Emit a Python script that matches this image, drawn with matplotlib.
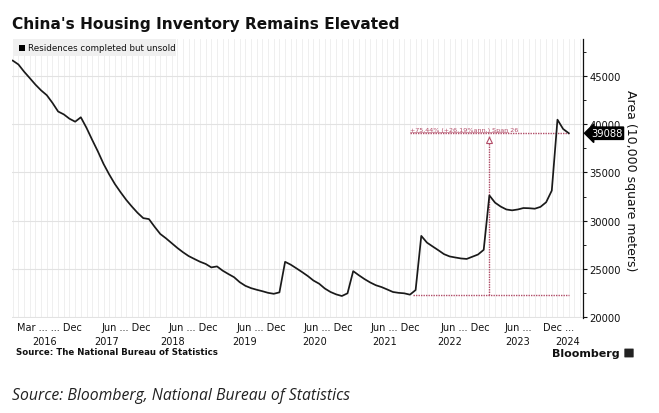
import numpy as np
import matplotlib
matplotlib.use('Agg')
from matplotlib import pyplot as plt
from matplotlib.patches import FancyBboxPatch, Rectangle
from matplotlib import transforms

# monthly, Jan 2016 .. Mar 2024 (10,000 sq m)
unsold = [46650, 46250, 45500, 44830, 44150, 43550, 43050, 42250, 41350, 41050, 40600, 40290,
          40750, 39650, 38400, 37200, 35900, 34800, 33800, 32950, 32150, 31450, 30800, 30250,
          30150, 29350, 28600, 28150, 27650, 27150, 26700, 26300, 26000, 25710, 25480, 25120,
          25220, 24780, 24430, 24100, 23580, 23200, 22960, 22790, 22640, 22470, 22370, 22520,
          25700, 25400, 25020, 24630, 24220, 23750, 23420, 22920, 22560, 22310, 22140, 22420,
          24730, 24300, 23900, 23550, 23260, 23070, 22820, 22560, 22470, 22420, 22280, 22760,
          28400, 27700, 27300, 26910, 26500, 26260, 26150, 26050, 26000, 26230, 26460, 26950,
          32610, 31860, 31450, 31150, 31060, 31150, 31300, 31280, 31230, 31420, 31900, 33120,
          40500, 39530, 39088]
month_labels = ['Mar ... ... Dec', 'Jun ... Dec', 'Jun ... Dec', 'Jun ... Dec', 'Jun ... Dec',
                'Jun ... Dec', 'Jun ... Dec', 'Jun ...', 'Dec ...']
month_label_pos = [6.48, 19.96, 31.85, 43.74, 55.64, 67.36, 79.69, 89.12, 96.26]
year_labels = ['2016', '2017', '2018', '2019', '2020', '2021', '2022', '2023', '2024']
year_label_pos = [5.68, 16.6, 28.2, 40.9, 53.26, 65.6, 76.96, 89.0, 97.8]
low_idx = 70      # Nov 2021
low_val = 22280
last_val = 39088
span_text = '+75.44% (+26.19%ann.) Span 26'

x = np.arange(len(unsold))

fig = plt.figure(figsize=(6.59, 4.14), dpi=100)
ax = fig.add_axes([12/659, 1-319/414, 571/659, 279/414])

ax.plot(x, unsold, color='#1a1a1a', lw=1.25, zorder=3)

ax.set_xlim(-0.13, 100.5)
ax.set_ylim(19850, 48900)

# grid: monthly verticals, horizontals at majors
for xi in np.arange(0, 101):
    ax.axvline(xi, color='#ededed', lw=0.6, zorder=0)
ax.set_yticks(np.arange(20000, 45001, 5000))
ax.set_yticks(np.arange(20000, 47501, 2500), minor=True)
ax.yaxis.grid(True, which='major', color='#e2e2e2', lw=0.8, zorder=0)
ax.set_axisbelow(True)

ax.yaxis.tick_right()
ax.tick_params(axis='y', which='major', direction='out', length=3, width=0.8,
               labelsize=7.2, pad=1.5, colors='#111111')
ax.tick_params(axis='y', which='minor', direction='out', length=2, width=0.6)
ax.set_xticks([])
for s in ['left', 'top', 'bottom']:
    ax.spines[s].set_visible(False)
ax.spines['right'].set_color('#111111')
ax.spines['right'].set_linewidth(0.9)

fig.text(631/659, 1-181/414, 'Area (10,000 square meters)', rotation=270, fontsize=9,
         ha='center', va='center', color='#111111')

# x labels
tr = transforms.blended_transform_factory(ax.transData, fig.transFigure)
for lab, p in zip(month_labels, month_label_pos):
    fig.text(p, 1-328/414, lab, transform=tr, ha='center', va='center',
             fontsize=7, color='#111111')
for lab, p in zip(year_labels, year_label_pos):
    fig.text(p, 1-342/414, lab, transform=tr, ha='center', va='center',
             fontsize=7, color='#111111')

# span annotation
acol = '#b24d68'
end_idx = len(unsold) - 1
ax.plot([low_idx, end_idx], [last_val, last_val], color=acol,
        lw=1.0, ls=(0, (1, 0.8)), zorder=2)
ax.plot([low_idx + 0.5, end_idx], [low_val, low_val], color=acol,
        lw=1.0, ls=(0, (1, 0.8)), zorder=2)
mid = (low_idx + end_idx) / 2
ax.plot([mid, mid], [low_val, last_val - 300], color=acol, lw=1.0,
        ls=(0, (1, 0.8)), zorder=2)
ax.plot(mid, last_val - 700, marker='^', ms=4, mfc='white', mec=acol, mew=0.8, zorder=2)
ax.text(low_idx, last_val + 150, span_text, fontsize=4.6, color=acol,
        ha='left', va='bottom')
ax.plot([low_idx, low_idx + 17.3], [last_val + 120, last_val + 120], color=acol, lw=0.4)

# last value tag
tag_tr = transforms.blended_transform_factory(ax.transAxes, ax.transData)
ax.text(1.014, last_val, str(last_val), transform=tag_tr, fontsize=7.2, color='white',
        ha='left', va='center', zorder=5,
        bbox=dict(boxstyle='larrow,pad=0.12', fc='black', ec='black'))

# legend box
fig.patches.append(Rectangle((13/659, 1-57/414), 163/659, 17/414, transform=fig.transFigure,
                             fc='#f0f0f0', ec='none', zorder=4))
fig.patches.append(Rectangle((19/659, 1-52/414), 6/659, 6/414, transform=fig.transFigure,
                             fc='black', ec='none', zorder=5))
fig.text(28/659, 1-48.5/414, 'Residences completed but unsold', fontsize=6.3,
         ha='left', va='center', color='#111111', zorder=6)

# titles and sources
fig.text(12/659, 1-24/414, "China's Housing Inventory Remains Elevated", fontsize=11.1,
         fontweight='bold', ha='left', va='center', color='#111111')
fig.text(16/659, 1-353/414, 'Source: The National Bureau of Statistics', fontsize=6.2,
         fontweight='bold', ha='left', va='center', color='#111111')
fig.text(620/659, 1-354/414, 'Bloomberg', fontsize=8, fontweight='bold',
         ha='right', va='center', color='#111111')
fig.patches.append(FancyBboxPatch((625/659, 1-358/414), 8/659, 8/414,
                                  boxstyle='round,pad=0.001', transform=fig.transFigure,
                                  fc='#222222', ec='none'))
fig.text(12/659, 1-396/414, 'Source: Bloomberg, National Bureau of Statistics',
         fontsize=11.3, style='italic', family=['Open Sans', 'DejaVu Sans'],
         ha='left', va='center', color='#222222')

fig.savefig('out.png', dpi=100)
